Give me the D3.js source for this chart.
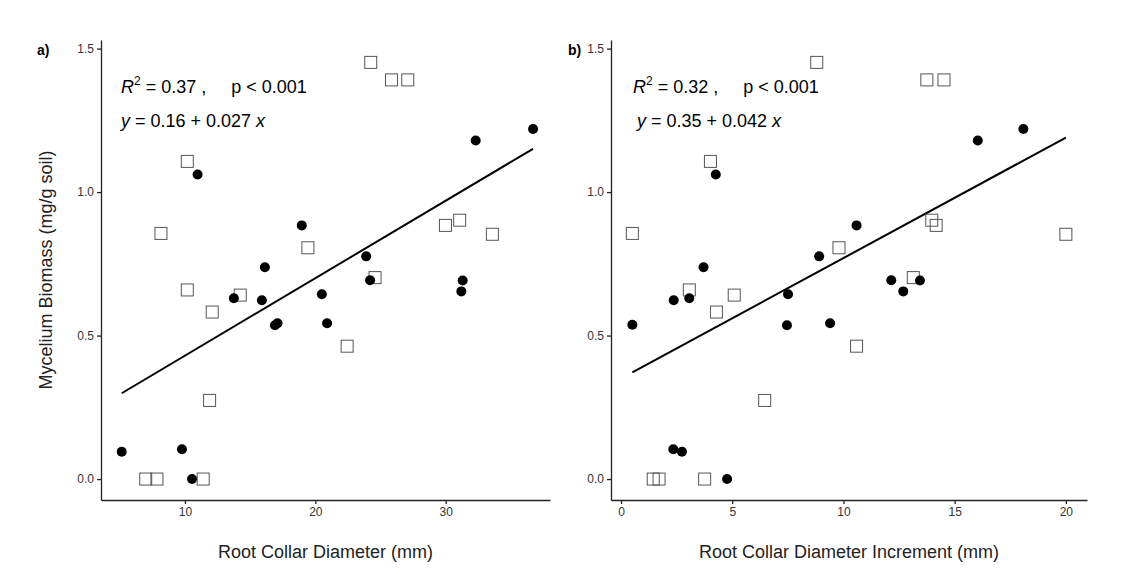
<!DOCTYPE html>
<html>
<head>
<meta charset="utf-8">
<script src="https://cdn.jsdelivr.net/npm/d3@7"></script>
<style>
  body { margin: 0; background: white; }
  text { font-family: "Liberation Sans", Arial, sans-serif; white-space: pre; }
</style>
</head>
<body>
<svg id="chart" width="1125" height="571"></svg>
<script>
'use strict';

// panel a: root collar diameter (mm)
var circleA_x = [5.15, 9.77, 10.54, 10.97, 13.75, 15.9, 16.13, 16.9, 17.1, 18.96, 20.5, 20.9, 23.9, 24.2, 31.2, 31.3, 32.3, 36.7];
var circleA_y = [0.095, 0.104, 0.0, 1.061, 0.630, 0.623, 0.738, 0.536, 0.543, 0.884, 0.644, 0.543, 0.776, 0.693, 0.654, 0.692, 1.18, 1.22];
var squareA_x = [24.25, 25.84, 27.09, 10.18, 8.16, 19.43, 29.98, 31.07, 33.58, 24.58, 10.18, 14.24, 12.09, 22.44, 11.89, 6.99, 7.85, 11.4];
var squareA_y = [1.452, 1.391, 1.391, 1.107, 0.856, 0.806, 0.884, 0.902, 0.853, 0.702, 0.659, 0.641, 0.582, 0.463, 0.274, 0.0, 0.0, 0.0];

// panel b: root collar diameter increment (mm)
var circleB_x = [0.51, 2.37, 3.07, 3.71, 4.26, 2.35, 2.74, 4.77, 7.46, 7.51, 8.91, 9.4, 10.59, 12.15, 12.69, 13.44, 16.04, 18.09];
var circleB_y = [0.538, 0.623, 0.630, 0.738, 1.061, 0.104, 0.095, 0.0, 0.536, 0.644, 0.776, 0.543, 0.884, 0.693, 0.654, 0.692, 1.18, 1.22];
var squareB_x = [8.8, 13.75, 14.52, 4.02, 0.51, 9.8, 13.97, 14.17, 20.0, 13.14, 3.07, 5.09, 4.29, 10.59, 6.46, 1.45, 1.71, 3.76];
var squareB_y = [1.452, 1.391, 1.391, 1.107, 0.856, 0.806, 0.902, 0.884, 0.853, 0.702, 0.659, 0.641, 0.582, 0.463, 0.274, 0.0, 0.0, 0.0];

var yTicks = [0, 0.5, 1.0, 1.5];
var xTicksA = [10, 20, 30];
var xTicksB = [0, 5, 10, 15, 20];

var svg = d3.select("#chart");

function zip(xs, ys) {
    return xs.map(function(x, i) { return [x, ys[i]]; });
}

function styleAxis(a) {
    a.selectAll("text").attr("font-size", 12).attr("fill", "#333");
    a.selectAll("line,path").attr("stroke", "#222").attr("stroke-width", 1.3);
}

function drawPanel(opt) {
    var x = d3.scaleLinear().domain(opt.xDomain).range([opt.left, opt.right]);
    var y = d3.scaleLinear().domain([-0.073, 1.53]).range([500, 40]);
    var g = svg.append("g");

    g.append("g")
     .attr("transform", "translate(0,500)")
     .call(d3.axisBottom(x).tickValues(opt.xTicks).tickSize(4).tickSizeOuter(0).tickFormat(d3.format("d")))
     .call(styleAxis);

    g.append("g")
     .attr("transform", "translate(" + opt.left + ",0)")
     .call(d3.axisLeft(y).tickValues(yTicks).tickSize(4).tickSizeOuter(0).tickFormat(d3.format(".1f")))
     .call(styleAxis);

    // fitted line
    var x0 = d3.min(opt.cx.concat(opt.sx)), x1 = d3.max(opt.cx.concat(opt.sx));
    g.append("line")
     .attr("x1", x(x0)).attr("y1", y(opt.b0 + opt.b1 * x0))
     .attr("x2", x(x1)).attr("y2", y(opt.b0 + opt.b1 * x1))
     .attr("stroke", "black").attr("stroke-width", 2);

    g.selectAll(".sq").data(zip(opt.sx, opt.sy)).enter().append("rect")
     .attr("x", function(d) { return x(d[0]) - 6; })
     .attr("y", function(d) { return y(d[1]) - 6; })
     .attr("width", 12).attr("height", 12)
     .attr("fill", "none").attr("stroke", "#555").attr("stroke-width", 1);

    g.selectAll(".ci").data(zip(opt.cx, opt.cy)).enter().append("circle")
     .attr("cx", function(d) { return x(d[0]); })
     .attr("cy", function(d) { return y(d[1]); })
     .attr("r", 5).attr("fill", "black");

    // annotation
    var t1 = g.append("text").attr("x", opt.annX).attr("y", 93).attr("font-size", 18);
    t1.append("tspan").attr("font-style", "italic").text("R");
    t1.append("tspan").attr("font-size", 12).attr("dy", -8).text("2");
    t1.append("tspan").attr("dy", 8).text(" = " + opt.r2 + " ,     p < 0.001");

    var t2 = g.append("text").attr("x", opt.annX2).attr("y", 127).attr("font-size", 18);
    t2.append("tspan").attr("font-style", "italic").text("y");
    t2.append("tspan").text(" = " + opt.b0 + " + " + opt.b1 + " ");
    t2.append("tspan").attr("font-style", "italic").text("x");

    g.append("text")
     .attr("x", (opt.left + opt.right) / 2).attr("y", 558)
     .attr("text-anchor", "middle").attr("font-size", 18).attr("fill", "#222")
     .text(opt.xTitle);

    g.append("text")
     .attr("x", opt.labelX).attr("y", 55)
     .attr("font-size", 14).attr("font-weight", "bold")
     .text(opt.label);
}

drawPanel({
    xDomain: [3.56, 38], left: 101, right: 550, xTicks: xTicksA,
    cx: circleA_x, cy: circleA_y, sx: squareA_x, sy: squareA_y,
    b0: 0.16, b1: 0.027, r2: "0.37", annX: 121, annX2: 121,
    xTitle: "Root Collar Diameter (mm)", label: "a)", labelX: 37
});

drawPanel({
    xDomain: [-0.45, 20.95], left: 611, right: 1087, xTicks: xTicksB,
    cx: circleB_x, cy: circleB_y, sx: squareB_x, sy: squareB_y,
    b0: 0.35, b1: 0.042, r2: "0.32", annX: 633, annX2: 637,
    xTitle: "Root Collar Diameter Increment (mm)", label: "b)", labelX: 568
});

svg.append("text")
   .attr("transform", "translate(52,270) rotate(-90)")
   .attr("text-anchor", "middle").attr("font-size", 18).attr("fill", "#222")
   .text("Mycelium Biomass (mg/g soil)");
</script>
</body>
</html>
